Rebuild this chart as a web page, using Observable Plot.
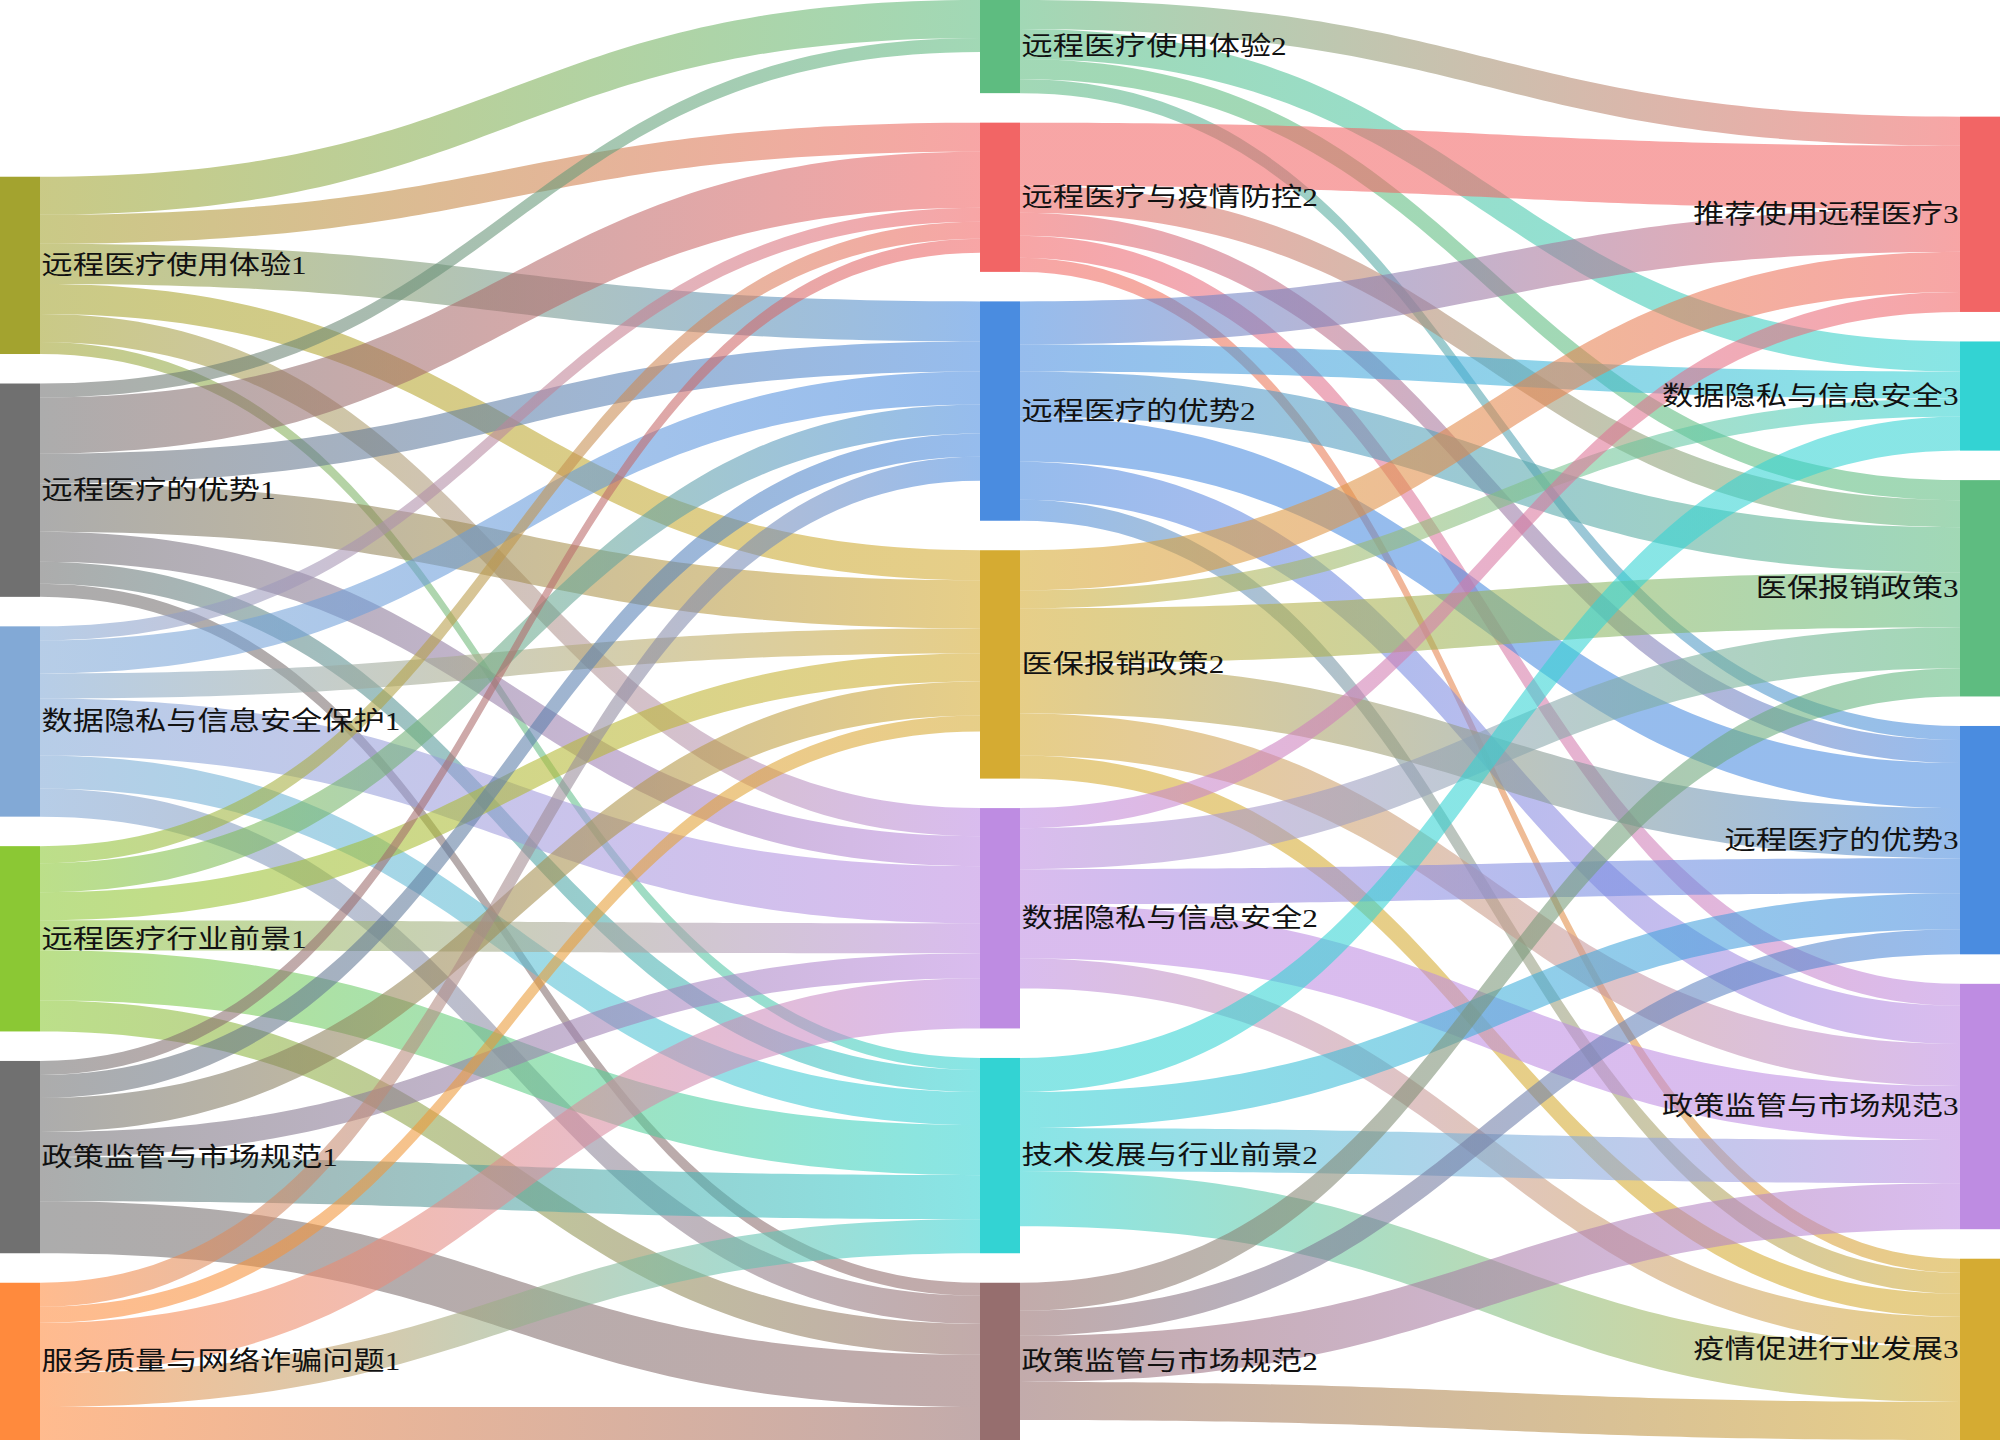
<!DOCTYPE html>
<html><head><meta charset="utf-8">
<script src="https://cdn.jsdelivr.net/npm/d3@7"></script>
<script src="https://cdn.jsdelivr.net/npm/@observablehq/plot@0.6"></script>
<style>body{margin:0;background:#fff} svg{display:block}</style>
</head><body><div id="chart"></div>
<script>
// ---- data ----
const leftNames = ["远程医疗使用体验1","远程医疗的优势1","数据隐私与信息安全保护1","远程医疗行业前景1","政策监管与市场规范1","服务质量与网络诈骗问题1"];
const midNames = ["远程医疗使用体验2","远程医疗与疫情防控2","远程医疗的优势2","医保报销政策2","数据隐私与信息安全2","技术发展与行业前景2","政策监管与市场规范2"];
const rightNames = ["推荐使用远程医疗3","数据隐私与信息安全3","医保报销政策3","远程医疗的优势3","政策监管与市场规范3","疫情促进行业发展3"];
const leftColors = ["#a3a32f","#707070","#82a9d6","#8bc834","#707070","#ff8a3d"];
const midColors = ["#5ebc80","#f26565","#4a8ce0","#d5ab32","#be8ce2","#33d3d3","#966e6e"];
const rightColors = ["#f26565","#33d3d3","#5ebc80","#4a8ce0","#be8ce2","#d5ab32"];
// rows: left nodes, columns: middle nodes
const leftToMid = [
  [38, 29, 40, 30, 28, 12, 0],
  [14, 56, 30, 48, 30, 22, 13],
  [0, 14, 33, 25, 57, 33, 28],
  [0, 17, 29, 28, 30, 50, 31],
  [0, 14, 23, 34, 25, 44, 52],
  [0, 0, 24, 16, 50, 34, 33]
];
// rows: middle nodes, columns: right nodes
const midToRight = [
  [29, 30, 20, 14, 0, 0],
  [63, 0, 27, 23, 22, 14],
  [43, 27, 45, 45, 38, 21],
  [40, 18, 55, 50, 42, 23],
  [20, 0, 41, 35, 54, 30],
  [0, 34, 0, 36, 43, 55],
  [0, 0, 28, 25, 46, 38]
];

// ---- layout ----
const W = 2000, H = 1440, nodeW = 40, gap = 29.5;
const colNames = [leftNames, midNames, rightNames];
const colColors = [leftColors, midColors, rightColors];
const nodes = [];
colNames.forEach((names, c) => names.forEach((name, i) => nodes.push({name, col: c, idx: i, color: colColors[c][i], inL: [], outL: []})));
const nodeAt = (c, i) => nodes.find(n => n.col === c && n.idx === i);
const links = [];
[leftToMid, midToRight].forEach((m, c) => m.forEach((row, i) => row.forEach((v, j) => {
  if (v > 0) { const l = {s: nodeAt(c, i), t: nodeAt(c + 1, j), value: v}; links.push(l); l.s.outL.push(l); l.t.inL.push(l); }
})));
nodes.forEach(n => n.value = Math.max(d3.sum(n.inL, l => l.value), d3.sum(n.outL, l => l.value)));
const ky = d3.min(colNames.map((names, c) => (H - (names.length - 1) * gap) / d3.sum(nodes.filter(n => n.col === c), n => n.value)));
colNames.forEach((names, c) => {
  const col = nodes.filter(n => n.col === c);
  const total = d3.sum(col, n => n.value * ky) + (col.length - 1) * gap;
  let y = H - total;
  col.forEach(n => { n.y0 = y; n.y1 = y + n.value * ky; n.x0 = c * (W - nodeW) / 2; n.x1 = n.x0 + nodeW; y = n.y1 + gap; });
});
nodes.forEach(n => {
  let sy = n.y0;
  n.outL.sort((a, b) => a.t.idx - b.t.idx).forEach(l => { l.sy = sy; sy += l.value * ky; });
  let ty = n.y0;
  n.inL.sort((a, b) => a.s.idx - b.s.idx).forEach(l => { l.ty = ty; ty += l.value * ky; });
  n.cy = (n.y0 + n.y1) / 2;
});
const pts = [];
links.forEach((l, k) => {
  const x0 = l.s.x1, x1 = l.t.x0, xm = (x0 + x1) / 2, w = l.value * ky;
  for (let i = 0; i <= 80; i++) {
    const t = i / 80;
    const a = (1 - t) ** 3, b = 3 * (1 - t) ** 2 * t, c = 3 * (1 - t) * t * t, d = t ** 3;
    const x = a * x0 + (b + c) * xm + d * x1;
    const yt = (a + b) * l.sy + (c + d) * l.ty;
    pts.push({k, x, ya: yt, yb: yt + w, fill: `url(#lg${k})`});
  }
});

const font = '"Liberation Serif", "Noto Sans CJK SC", sans-serif';
const plot = Plot.plot({
  width: W, height: H, margin: 0,
  x: {type: "linear", domain: [0, W], range: [0, W], axis: null},
  y: {type: "linear", domain: [0, H], range: [0, H], axis: null},
  color: {type: "identity"},
  style: {background: "#fff"},
  marks: [
    Plot.area(pts, {x1: "x", y1: "ya", y2: "yb", z: "k", fill: "fill", fillOpacity: 0.58, curve: "linear"}),
    Plot.rect(nodes, {x1: "x0", x2: "x1", y1: "y0", y2: "y1", fill: "color"}),
    Plot.text(nodes.filter(n => n.col < 2), {x: "x1", y: "cy", text: "name", textAnchor: "start", dx: 1, fontSize: 26, fontFamily: font, fill: "#111"}),
    Plot.text(nodes.filter(n => n.col === 2), {x: "x0", y: "cy", text: "name", textAnchor: "end", dx: -2, fontSize: 26, fontFamily: font, fill: "#111"})
  ]
});
const xs = plot.scale("x");
const ns = "http://www.w3.org/2000/svg";
const defs = document.createElementNS(ns, "defs");
links.forEach((l, k) => {
  const g = document.createElementNS(ns, "linearGradient");
  g.setAttribute("id", "lg" + k);
  g.setAttribute("gradientUnits", "userSpaceOnUse");
  g.setAttribute("x1", xs.apply(l.s.x1)); g.setAttribute("x2", xs.apply(l.t.x0));
  g.setAttribute("y1", 0); g.setAttribute("y2", 0);
  [[0, l.s.color], [1, l.t.color]].forEach(([o, c]) => {
    const s = document.createElementNS(ns, "stop");
    s.setAttribute("offset", o); s.setAttribute("stop-color", c); g.appendChild(s);
  });
  defs.appendChild(g);
});
plot.insertBefore(defs, plot.firstChild);
document.getElementById("chart").appendChild(plot);
plot.querySelectorAll('g[aria-label="text"] text').forEach(t => {
  const w = t.getComputedTextLength();
  t.setAttribute("textLength", (w * 1.2).toFixed(1));
  t.setAttribute("lengthAdjust", "spacingAndGlyphs");
});
</script>
</body></html>
